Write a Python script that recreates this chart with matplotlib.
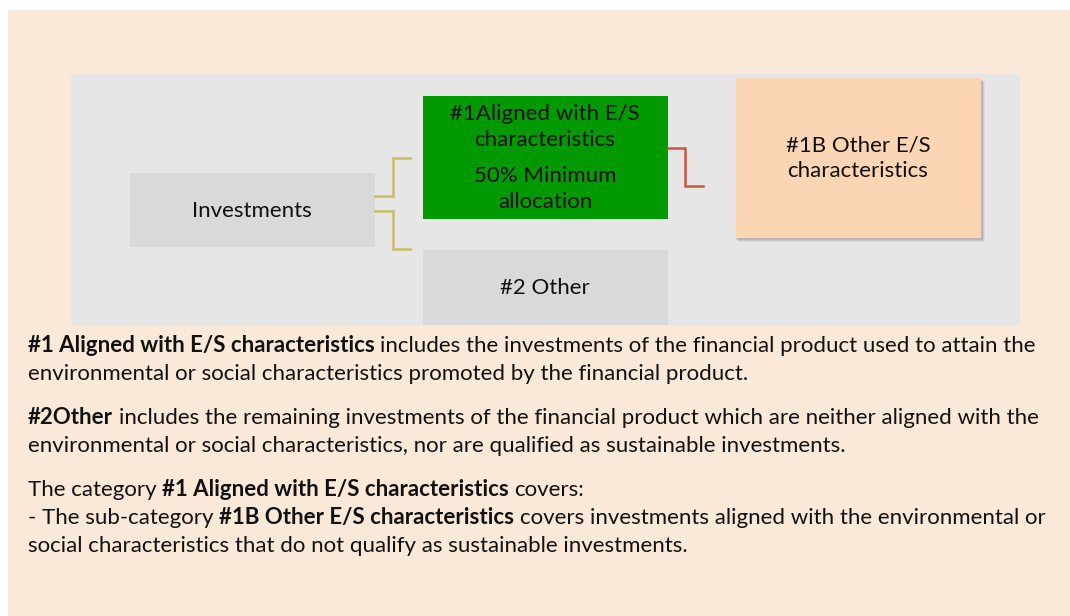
import matplotlib

matplotlib.use("Agg")
import matplotlib.pyplot as plt
from matplotlib.patches import Rectangle

# labels of the diagram boxes
root_label = "Investments"
aligned_label = "#1Aligned with E/S\ncharacteristics"
aligned_share = "50% Minimum\nallocation"
other_label = "#2 Other"
sub_label = "#1B Other E/S\ncharacteristics"

# explanatory paragraphs: list of lines, each line a list of (text, bold) runs
para_1 = [
    [("#1 Aligned with E/S characteristics", True),
     ("includes the investments of the financial product used to attain the", False)],
    [("environmental or social characteristics promoted by the financial product.", False)],
]
para_2 = [
    [("#2Other", True),
     ("includes the remaining investments of the financial product which are neither aligned with the", False)],
    [("environmental or social characteristics, nor are qualified as sustainable investments.", False)],
]
para_3 = [
    [("The category", False), ("#1 Aligned with E/S characteristics", True), ("covers:", False)],
    [("- The sub-category", False), ("#1B Other E/S characteristics", True),
     ("covers investments aligned with the environmental or", False)],
    [("social characteristics that do not qualify as sustainable investments.", False)],
]

FONT = ["Lato", "DejaVu Sans"]
BODY = 16
W, H = 1070, 616

fig = plt.figure(figsize=(W / 100, H / 100), dpi=100)
ax = fig.add_axes([0, 0, 1, 1])
ax.set_xlim(0, W)
ax.set_ylim(H, 0)
ax.axis("off")
renderer = fig.canvas.get_renderer()


def box(x0, y0, x1, y1, color, z=1):
    ax.add_patch(Rectangle((x0, y0), x1 - x0, y1 - y0, facecolor=color,
                           edgecolor="none", zorder=z))


def label(x, y, s, size=BODY):
    ax.text(x, y, s, ha="center", va="center", fontsize=size, family=FONT,
            color="#111111", linespacing=1.35, zorder=5)


# backgrounds
box(8, 10, W, H, "#fae8d8", 0)
box(71, 74, 1020, 325, "#e6e6e6", 1)

# boxes
box(130, 173, 375, 247, "#d9d9d9", 2)
box(423, 96, 668, 219, "#009900", 2)
box(423, 250, 668, 325, "#d9d9d9", 2)
for i, a in enumerate([0.05, 0.07, 0.09]):
    d = 4 - i
    box(736 + d - 2, 78 + d, 981 + d, 238 + d, (0, 0, 0, a), 2)
box(736, 78, 981, 238, "#fcd5b4", 3)

label(252, 211, root_label)
label(545, 127, aligned_label)
label(545, 189, aligned_share)
label(545, 288, other_label)
label(858, 158, sub_label)

# connectors
olive = "#c8bd62"
ax.plot([375, 393, 393, 410], [196, 196, 158, 158], color=olive, lw=1.8,
        solid_joinstyle="miter", zorder=4)
ax.plot([375, 393, 393, 410], [211, 211, 249, 249], color=olive, lw=1.8,
        solid_joinstyle="miter", zorder=4)
ax.plot([668, 685, 685, 703], [148, 148, 186, 186], color="#c8553d", lw=1.8,
        solid_joinstyle="miter", zorder=4)


def text_width(s, weight):
    t = ax.text(0, 0, s, fontsize=BODY, family=FONT, weight=weight)
    w = t.get_window_extent(renderer).width
    t.remove()
    return w


def draw_line(x, y, runs):
    for i, (s, bold) in enumerate(runs):
        weight = "bold" if bold else "normal"
        if i > 0:
            x += text_width("a a", weight) - text_width("aa", weight)
        ax.text(x, y, s, ha="left", va="baseline", fontsize=BODY, family=FONT,
                weight=weight, color="#111111", zorder=5)
        x += text_width(s, weight)


for para, y0 in [(para_1, 352), (para_2, 424), (para_3, 496)]:
    for k, line in enumerate(para):
        draw_line(28, y0 + 28 * k, line)

fig.savefig("out.png", dpi=100)
